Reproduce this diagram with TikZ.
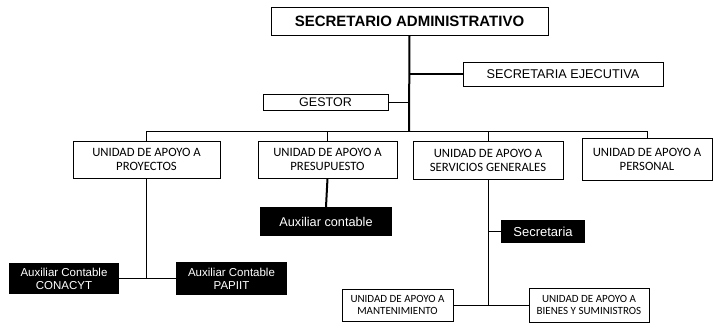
\documentclass[tikz,border=0pt]{standalone}
\usepackage{fontspec}
\setmainfont{Liberation Sans}
\newfontfamily\calib{Carlito}
\usetikzlibrary{positioning}
\tikzset{
  caja/.style={draw,line width=0.9pt,inner sep=0pt,align=center,fill=white},
  negra/.style={fill=black,text=white,inner sep=0pt,align=center,font=\fontsize{11.5}{13}\selectfont},
  unidad/.style={caja,font=\calib\fontsize{12.7}{14}\selectfont},
  linea/.style={line width=1pt},
  gruesa/.style={line width=2pt}
}
\begin{document}
\begin{tikzpicture}[x=1pt,y=-1pt]
\useasboundingbox (0,0) rectangle (713,325);

\node[caja,minimum width=277pt,minimum height=28pt,font=\bfseries\fontsize{15}{17}\selectfont] (sa) at (409.5,21) {SECRETARIO ADMINISTRATIVO};
\node[caja,minimum width=200pt,minimum height=24pt,font=\fontsize{12.7}{14}\selectfont] (se) at (563,74) {SECRETARIA EJECUTIVA};
\node[caja,minimum width=125pt,minimum height=16pt,font=\fontsize{12.5}{14}\selectfont] (gestor) at (325.5,102) {GESTOR};
\coordinate (bus) at (409,131);

\foreach \n/\x/\y/\w/\h/\t in {proy/146.5/159.5/147/37/{PROYECTOS},pres/327.5/159.5/139/37/{PRESUPUESTO},serv/488/160/150/38/{SERVICIOS GENERALES},pers/647/159/130/42/{PERSONAL}}
{
    \node[unidad,minimum width=\w pt,minimum height=\h pt] (\n) at (\x,\y) {UNIDAD DE APOYO A\\\t};
}

\node[negra,minimum width=132pt,minimum height=29pt,font=\fontsize{12.7}{14}\selectfont] (auxc) at (326,221.5) {Auxiliar contable};
\node[negra,minimum width=110pt,minimum height=31pt] (conacyt) at (64,278.5) {Auxiliar Contable\\CONACYT};
\node[negra,minimum width=111pt,minimum height=33pt] (papiit) at (231.5,278.5) {Auxiliar Contable\\PAPIIT};
\node[negra,minimum width=84pt,minimum height=23pt,font=\fontsize{13}{15}\selectfont] (sec) at (543,231.5) {Secretaria};

\node[unidad,minimum width=111pt,minimum height=32pt,font=\calib\fontsize{11}{12.5}\selectfont] (mant) at (397.5,305) {UNIDAD DE APOYO A\\MANTENIMIENTO};
\node[unidad,minimum width=120pt,minimum height=34pt,font=\calib\fontsize{11}{12.5}\selectfont] (bienes) at (589,305) {UNIDAD DE APOYO A\\BIENES Y SUMINISTROS};

\draw[gruesa] (sa.south) -- (bus);
\draw[gruesa] (se.west) -- (se.west -| sa.south);
\draw[linea] (gestor.east) -- (gestor.east -| sa.south);
\draw[linea] (proy.north |- bus) -- (pers.north |- bus);
\foreach \n in {proy,pres,serv,pers}
{
    \draw[linea] (\n.north) -- (\n.north |- bus);
}
\draw[gruesa] (pres.south) -- (auxc.north);
\draw[linea] (proy.south) -- (proy.south |- conacyt.east);
\draw[linea] (conacyt.east) -- (papiit.west);
\draw[linea] (serv.south) -- (serv.south |- mant.east);
\draw[linea] (mant.east) -- (bienes.west);
\draw[linea] (sec.west) -- (sec.west -| serv.south);
\end{tikzpicture}
\end{document}
